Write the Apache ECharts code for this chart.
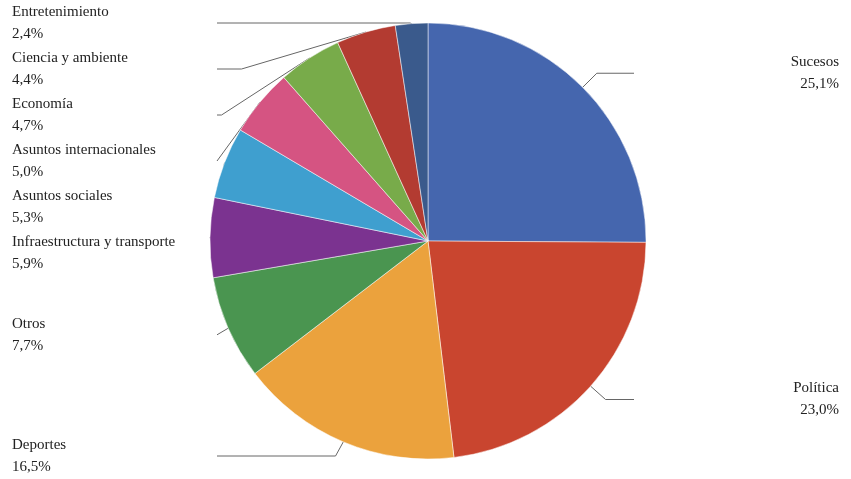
<!DOCTYPE html>
<html><head><meta charset="utf-8">
<script src="https://cdn.jsdelivr.net/npm/echarts@6/dist/echarts.min.js"></script>
<style>html,body{margin:0;background:#fff}#c{width:851px;height:479px}</style>
</head><body><div id="c"></div>
<script>
const categories = ["Sucesos","Política","Deportes","Otros","Infraestructura y transporte","Asuntos sociales","Asuntos internacionales","Economía","Ciencia y ambiente","Entretenimiento"];
const values = [25.1,23.0,16.5,7.7,5.9,5.3,5.0,4.7,4.4,2.4];
const colors = ["#4566ae","#c9452f","#eba23d","#4a9550","#7b3390","#3f9fcf","#d55482","#78ab4a","#b33b31","#3a5a8c"];
const chart = echarts.init(document.getElementById('c'));
chart.setOption({
  animation:false,
  series:[{
    type:'pie', center:[428,241], radius:218, startAngle:90, clockwise:true,
    data: categories.map((n,i)=>({name:n,value:values[i],itemStyle:{color:colors[i]}})),
    itemStyle:{borderColor:'#fff',borderWidth:0.5},
    label:{formatter:p=>p.name+'\n'+p.value.toFixed(1).replace('.',',')+'%',
      fontFamily:'Liberation Serif', fontSize:15, color:'#222', lineHeight:22,
      alignTo:'edge', edgeDistance:12, overflow:'none', width:200},
    labelLine:{length:20,length2:20,lineStyle:{color:'#666',width:1}},
    emphasis:{disabled:true}
  }]
});
</script></body></html>
